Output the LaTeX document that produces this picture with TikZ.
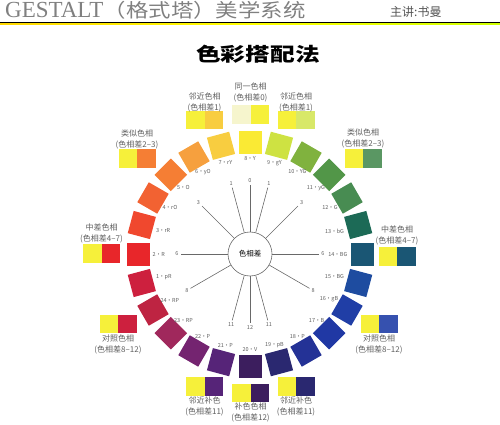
\documentclass[tikz,border=0pt]{standalone}
\usepackage{fontspec}
\setmainfont{Liberation Serif}
\newfontfamily\cjk{Noto Sans CJK SC}
\usetikzlibrary{calc}
\definecolor{hdr}{RGB}{128,128,128}
\definecolor{hdrb}{RGB}{85,85,85}
\definecolor{txtgray}{RGB}{95,95,95}
\definecolor{linegray}{RGB}{105,105,105}
\definecolor{sy}{RGB}{246,240,58}
\definecolor{sypale}{RGB}{246,245,205}
\definecolor{h1}{RGB}{205,32,62}
\definecolor{h2}{RGB}{232,38,42}
\definecolor{h3}{RGB}{240,72,46}
\definecolor{h4}{RGB}{242,98,50}
\definecolor{h5}{RGB}{245,126,52}
\definecolor{h6}{RGB}{246,160,62}
\definecolor{h7}{RGB}{248,205,64}
\definecolor{h8}{RGB}{250,234,52}
\definecolor{h9}{RGB}{206,226,66}
\definecolor{h10}{RGB}{128,178,62}
\definecolor{h11}{RGB}{82,150,72}
\definecolor{h12}{RGB}{72,140,82}
\definecolor{h13}{RGB}{28,106,86}
\definecolor{h14}{RGB}{26,86,116}
\definecolor{h15}{RGB}{30,76,160}
\definecolor{h16}{RGB}{32,62,166}
\definecolor{h17}{RGB}{32,56,164}
\definecolor{h18}{RGB}{36,50,150}
\definecolor{h19}{RGB}{42,40,112}
\definecolor{h20}{RGB}{60,30,94}
\definecolor{h21}{RGB}{86,36,120}
\definecolor{h22}{RGB}{116,36,112}
\definecolor{h23}{RGB}{160,40,92}
\definecolor{h24}{RGB}{190,36,66}
\pgfdeclarehorizontalshading{rainbowline}{10bp}{%
  color(0bp)=(blue!60!violet); color(8bp)=(red!85!black); color(80bp)=(red);
  color(170bp)=(orange); color(250bp)=(yellow); color(330bp)=(green!60!yellow);
  color(390bp)=(green!60!black); color(450bp)=(cyan!50!blue); color(500bp)=(blue!80!black)}
\tikzset{
  huesq/.style={minimum size=23pt, inner sep=0pt, outer sep=0pt},
  huelab/.style={font=\cjk\fontsize{5.5}{6}\selectfont, text=txtgray, inner sep=0.5pt},
  spokelab/.style={font=\cjk\fontsize{5.5}{6}\selectfont, text=txtgray, inner sep=2pt},
  spoke/.style={draw=linegray, line width=0.6pt},
  swatch/.style={minimum width=18.5pt, minimum height=18.5pt, inner sep=0pt, outer sep=0pt},
  pairlab/.style={font=\cjk\fontsize{8}{11}\selectfont, text=txtgray, align=center, inner sep=0pt}
}
\newcommand\mkpair[8]{%
  \node[swatch, fill=#5, anchor=east] (#1a) at (#2,#3) {};
  \node[swatch, fill=#6, anchor=west] (#1b) at (#2,#3) {};
  \node[pairlab] (#1t) at (#2,#4) {#7\\#8};
}
\begin{document}
\begin{tikzpicture}[x=1pt,y=1pt]
\useasboundingbox (0,0) rectangle (500,-425);
% header
\node[anchor=base west, inner sep=0pt, text=hdr, font=\fontsize{23}{23}\selectfont] (gest) at (5,-18) {GESTALT};
\node[anchor=base west, inner sep=0pt, text=hdr, font=\cjk\fontsize{19}{19}\selectfont] (gsub) at (gest.base east) {\scalebox{1.18}[1]{（格式塔）美学系统}};
\node[anchor=base west, inner sep=0pt, text=hdrb, font=\cjk\fontsize{12}{12}\selectfont] (lect) at (390,-16.5) {主讲:书曼};
\draw[gray!60, line width=0.6pt] (0,-22) -- (500,-22);
\fill[shading=rainbowline] (0,-22.5) rectangle (500,-25.5);
% title
\node[font=\cjk\bfseries\fontsize{19}{20}\selectfont, text=black] (title) at (258,-54.5) {\scalebox{1.3}[1]{色彩搭配法}};
% wheel
\coordinate (C) at (250,-254);
\foreach \k/\lab in {1/pR,2/R,3/rR,4/rO,5/O,6/yO,7/rY,8/Y,9/gY,10/YG,11/yG,12/G,13/bG,14/BG,15/BG,16/gB,17/B,18/P,19/pB,20/V,21/P,22/P,23/RP,24/RP}{
  \pgfmathtruncatemacro\a{mod(90-15*(\k-8)+720,360)}
  \pgfmathtruncatemacro\r{\a-90}
  \node[huesq, fill=h\k, rotate=\r] (sq\k) at ($(C)+(\a:112)$) {};
  \node[huelab, anchor=\a] (hl\k) at ($(C)+(\a:98)$) {\k·\lab};
}
\node[circle, draw=linegray, line width=0.6pt, minimum size=44pt, inner sep=0pt, font=\cjk\fontsize{7.5}{8}\selectfont] (hc) at (C) {色相差};
\foreach \a/\t [count=\i] in {90/0,75/1,105/1,45/3,135/3,0/6,180/6,-30/8,210/8,-75/11,255/11,270/12}{
  \node[spokelab] (sl\i) at ($(C)+(\a:73)$) {\t};
  \draw[spoke] (hc) -- (sl\i);
}
% swatch pairs
\mkpair{tl}{204.5}{-120}{-102.5}{sy}{h7}{邻近色相}{(色相差1)}
\mkpair{tc}{250.5}{-114.5}{-92}{sypale}{sy}{同一色相}{(色相差0)}
\mkpair{tr}{296}{-120}{-102.5}{sy}{h9!80!white}{邻近色相}{(色相差1)}
\mkpair{la}{137}{-158.5}{-139.5}{sy}{h5}{类似色相}{(色相差2–3)}
\mkpair{ra}{363}{-158.5}{-138.5}{sy}{h12!90!white}{类似色相}{(色相差2–3)}
\mkpair{lm}{101.5}{-253.5}{-233.5}{sy}{h2}{中差色相}{(色相差4–7)}
\mkpair{rm}{397}{-256.5}{-235.5}{sy}{h14}{中差色相}{(色相差4–7)}
\mkpair{lc}{118}{-324}{-344.5}{sy}{h1}{对照色相}{(色相差8–12)}
\mkpair{rc}{379}{-324}{-344.5}{sy}{h16!90!white}{对照色相}{(色相差8–12)}
\mkpair{bl}{204.5}{-386.5}{-406}{sy}{h21}{邻近补色}{(色相差11)}
\mkpair{bc}{250.5}{-393}{-412}{sy}{h20}{补色色相}{(色相差12)}
\mkpair{br}{296}{-386.5}{-406}{sy}{h19}{邻近补色}{(色相差11)}
\end{tikzpicture}
\end{document}
